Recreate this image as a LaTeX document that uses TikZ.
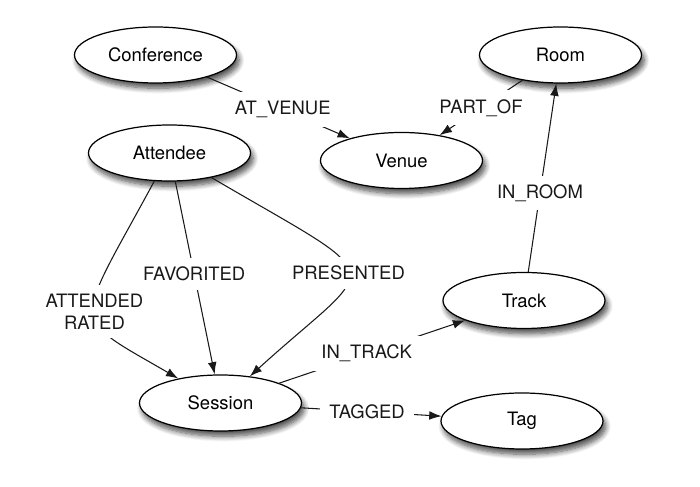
\documentclass[tikz,border=0pt]{standalone}
\usepackage{fontspec}
\setmainfont{TeX Gyre Heros}
\usetikzlibrary{shapes.geometric, arrows.meta, shadows.blur}

\begin{document}
\begin{tikzpicture}[
            entity/.style={ellipse, draw=black, line width=0.7pt, fill=white, minimum width=3.24cm, minimum height=1.12cm, inner sep=0pt, font=\fontsize{10.5}{12.5}\selectfont, blur shadow={shadow xshift=1.5pt, shadow yshift=-3pt, shadow blur steps=8, shadow blur radius=3pt, shadow opacity=70}},
            rel/.style={line width=0.6pt, color=black!90},
            arrow/.style={rel, -{Latex[length=7pt, width=5pt]}},
            lbl/.style={fill=white, inner sep=5pt, align=center, font=\fontsize{10.5}{12.5}\selectfont}
        ]
            \useasboundingbox (0,0) rectangle (14,-9.74);

            % Entities (top)
            \node[entity] (conference) at (3.11,-1.10) {Conference};
            \node[entity] (room) at (11.21,-1.10) {Room};
            \node[entity] (attendee) at (3.39,-3.06) {Attendee};
            \node[entity] (venue) at (8.03,-3.21) {Venue};

            % Entities (bottom)
            \node[entity] (track) at (10.48,-6.01) {Track};
            \node[entity] (session) at (4.41,-8.06) {Session};
            \node[entity] (tag) at (10.44,-8.42) {Tag};

            % Venue side
            \draw[arrow] (conference) -- node[lbl, pos=0.53]{AT\_VENUE} (venue);
            \draw[arrow] (room) -- node[lbl]{PART\_OF} (venue);
            \draw[arrow] (track) -- node[lbl, pos=0.42]{IN\_ROOM} (room);

            % Attendee to session
            \draw[arrow] (attendee) .. controls (1.48,-6.60) and (1.34,-6.28) .. node[lbl]{ATTENDED\\RATED} (session);
            \draw[arrow] (attendee) -- node[lbl, pos=0.48]{FAVORITED} (session);
            \draw[arrow] (attendee) .. controls (7.91,-5.71) and (7.60,-5.16) .. node[lbl]{PRESENTED} (session);

            % Session outwards
            \draw[arrow] (session) -- node[lbl, pos=0.47]{IN\_TRACK} (track);
            \draw[arrow] (session) -- node[lbl, pos=0.47]{TAGGED} (tag);
        \end{tikzpicture}
\end{document}
